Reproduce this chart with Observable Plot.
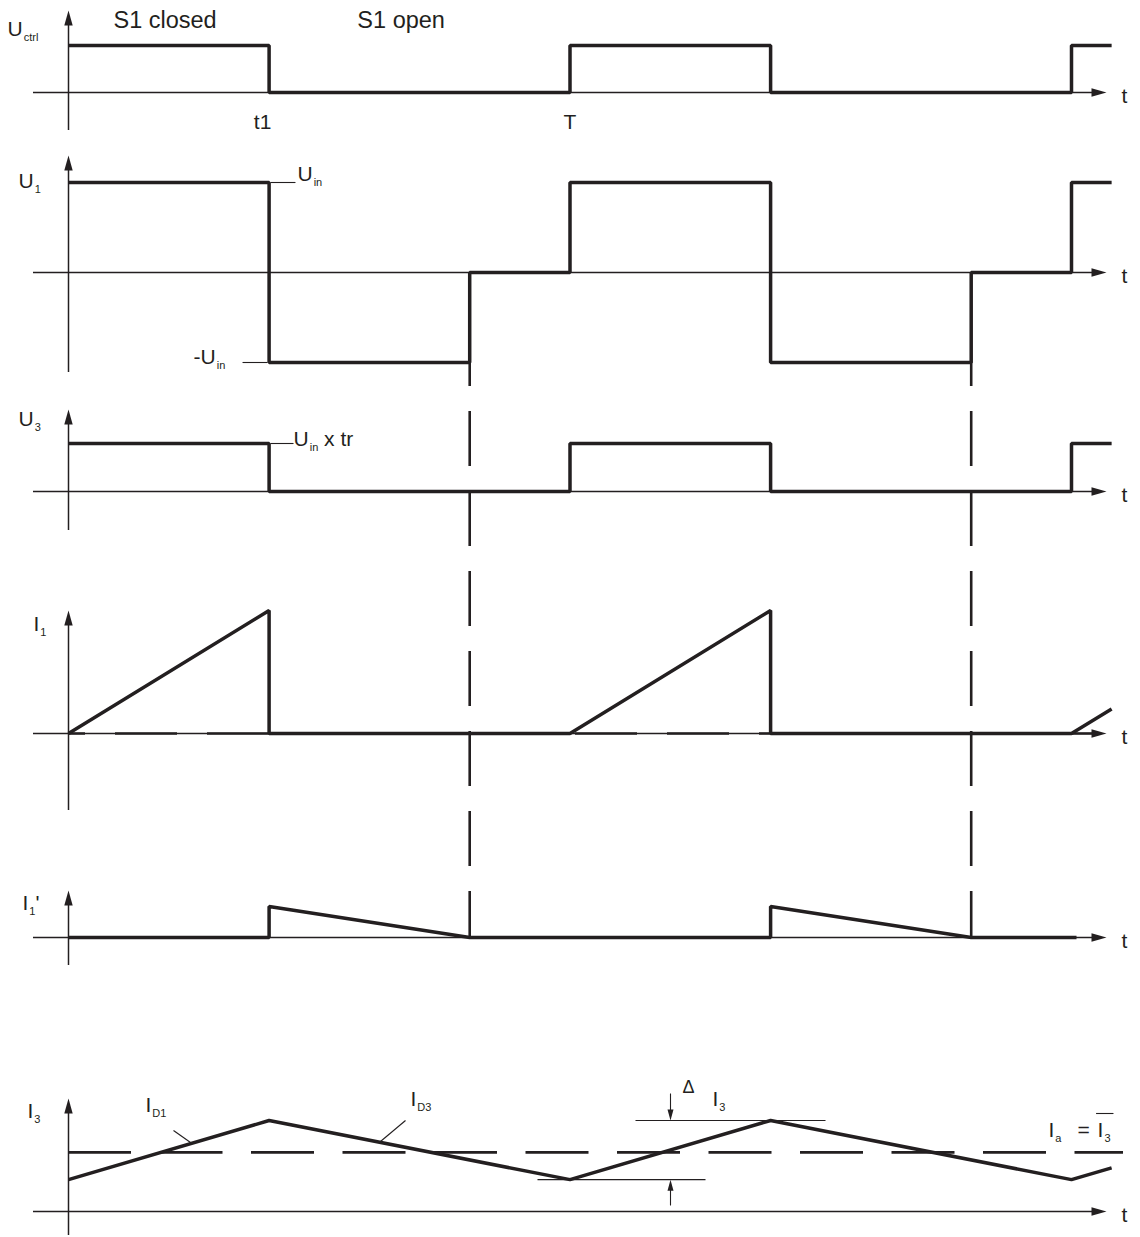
<!DOCTYPE html>
<html>
<head>
<meta charset="utf-8">
<script src="https://cdn.jsdelivr.net/npm/d3@7"></script>
<script src="https://cdn.jsdelivr.net/npm/@observablehq/plot@0.6"></script>
<style>
  body { margin: 0; background: #fff; }
  #chart svg { display: block; }
</style>
</head>
<body>
<div id="chart"></div>
<script>
// ---- DATA (time in units of the switching period T = 1; t1 = 0.4) ----
const tCtrl = [0, 0.4, 0.4, 1.0, 1.0, 1.4, 1.4, 2.0, 2.0, 2.08];
const uCtrl = [1, 1, 0, 0, 1, 1, 0, 0, 1, 1];
const tU1   = [0, 0.4, 0.4, 0.8, 0.8, 1.0, 1.0, 1.4, 1.4, 1.8, 1.8, 2.0, 2.0, 2.08];
const u1    = [1, 1, -1, -1, 0, 0, 1, 1, -1, -1, 0, 0, 1, 1];
const tU3   = [0, 0.4, 0.4, 1.0, 1.0, 1.4, 1.4, 2.0, 2.0, 2.08];
const u3    = [1, 1, 0, 0, 1, 1, 0, 0, 1, 1];
const tI1   = [0, 0.4, 0.4, 1.0, 1.4, 1.4, 2.0, 2.08];
const i1    = [0, 1, 0, 0, 1, 0, 0, 0.2];
const tI1p  = [0, 0.4, 0.4, 0.8, 1.4, 1.4, 1.8, 2.01];
const i1p   = [0, 0, 1, 0, 0, 1, 0, 0];
const tI3   = [0, 0.4, 1.0, 1.4, 2.0, 2.08];
const i3    = [0.35, 1, 0.35, 1, 0.35, 0.48];
const i3Avg = 0.65;
const demagEnd = [0.8, 1.8];          // end of transformer demagnetisation
const edgeLabels = ["t1", "T"];
const edgeTimes  = [0.387, 1.0];

// ---- LAYOUT ----
const color = "#231f20";
const panels = {
  uctrl: {base: 92,   amp: 47,  up: 82,  down: 38},
  u1:    {base: 272,  amp: 90,  up: 117, down: 100},
  u3:    {base: 491,  amp: 48,  up: 82,  down: 39},
  i1:    {base: 733,  amp: 123, up: 123, down: 77},
  i1p:   {base: 937,  amp: 31,  up: 47,  down: 28},
  i3:    {base: 1211, amp: 91,  up: 113, down: 24}
};
const panelList = Object.values(panels);
const Y = (p, v) => panels[p].base - panels[p].amp * v;
const series = (ts, vs) => ts.map((t, i) => ({t, v: vs[i]}));

const upHead    = {draw(c) { c.moveTo(0, 0); c.lineTo(-4.2, 15); c.lineTo(4.2, 15); c.closePath(); }};
const rightHead = {draw(c) { c.moveTo(0, 0); c.lineTo(-15, -4.2); c.lineTo(-15, 4.2); c.closePath(); }};
const smallDown = {draw(c) { c.moveTo(0, 0); c.lineTo(-3, -11); c.lineTo(3, -11); c.closePath(); }};
const smallUp   = {draw(c) { c.moveTo(0, 0); c.lineTo(-3, 11); c.lineTo(3, 11); c.closePath(); }};

const sig = {stroke: color, strokeWidth: 3.5, strokeLinejoin: "miter", strokeLinecap: "butt"};

// annotation texts ("_" starts a subscript, "|" returns to the baseline)
const labels = [
  {t: 0.0897, y: 27,   text: "S1 closed", size: 23.5},
  {t: 0.576,  y: 27,   text: "S1 open",   size: 23.5},
  {t: -0.1216, y: 35,  text: "U_ctrl", size: 21},
  {t: -0.0997, y: 187, text: "U_1", size: 21},
  {t: -0.0997, y: 425, text: "U_3", size: 21},
  {t: -0.0698, y: 630, text: "I_1", size: 21},
  {t: -0.0917, y: 909, text: "I_1|'", size: 21},
  {t: -0.0818, y: 1117, text: "I_3", size: 21},
  {t: 0.4566, y: 180,  text: "U_in", size: 21},
  {t: 0.2493, y: 363,  text: "-U_in", size: 21},
  {t: 0.4487, y: 445,  text: "U_in| x tr", size: 21},
  {t: 0.1535, y: 1111, text: "I_D1", size: 21},
  {t: 0.682,  y: 1105, text: "I_D3", size: 21},
  {t: 1.2243, y: 1092, text: "Δ", size: 18},
  {t: 1.2842, y: 1105, text: "I_3", size: 21},
  {t: 1.954,  y: 1136, text: "I_a", size: 21},
  {t: 2.012,  y: 1136, text: "=", size: 21},
  {t: 2.052,  y: 1136, text: "I_3", size: 21}
];
const thin = [
  {x1: 0.4028, y1: Y("u1", 1),  x2: 0.4526, y2: Y("u1", 1)},
  {x1: 0.347,  y1: Y("u1", -1), x2: 0.3968, y2: Y("u1", -1)},
  {x1: 0.4028, y1: Y("u3", 1),  x2: 0.4487, y2: Y("u3", 1)},
  {x1: 0.2094, y1: 1130, x2: 0.2433, y2: 1142},
  {x1: 0.672,  y1: 1120, x2: 0.6221, y2: 1141},
  {x1: 1.1306, y1: Y("i3", 1),    x2: 1.5095, y2: Y("i3", 1)},
  {x1: 0.9352, y1: Y("i3", 0.35), x2: 1.2702, y2: Y("i3", 0.35)},
  {x1: 1.2004, y1: 1093, x2: 1.2004, y2: Y("i3", 1) - 10},
  {x1: 1.2004, y1: Y("i3", 0.35) + 10, x2: 1.2004, y2: 1205},
  {x1: 2.049,  y1: 1113, x2: 2.0837, y2: 1113}
];

const textMarks = [23.5, 21, 18].map(size =>
  Plot.text(labels.filter(d => d.size === size), {x: "t", y: "y", text: "text", textAnchor: "start", lineAnchor: "bottom", fontSize: size, fill: color})
);

const plot = Plot.plot({
  width: 1140,
  height: 1237,
  marginLeft: 68, marginRight: 69, marginTop: 0, marginBottom: 0,
  x: {domain: [0, 2], axis: null},
  y: {domain: [0, 1237], range: [0, 1237], axis: null},
  style: {fontFamily: "'Liberation Sans', Arial, Helvetica, sans-serif", background: "#fff", color: color},
  marks: [
    // axes
    Plot.ruleX(panelList, {x: 0, y1: d => d.base - d.up + 10, y2: d => d.base + d.down, stroke: color, strokeWidth: 1.5}),
    Plot.dot(panelList, {x: 0, y: d => d.base - d.up, symbol: upHead, fill: color, stroke: null}),
    Plot.ruleY(panelList, {y: d => d.base, x1: -0.0698, x2: 2.055, stroke: color, strokeWidth: 1.5}),
    Plot.dot(panelList, {x: 2.0698, y: d => d.base, symbol: rightHead, fill: color, stroke: null}),
    Plot.text(panelList, {x: 2.0997, y: d => d.base + 10, text: () => "t", textAnchor: "start", lineAnchor: "bottom", fontSize: 21, fill: color}),
    // dashed guides
    Plot.ruleX(demagEnd, {x: d => d, y1: Y("u1", -1), y2: Y("i1p", 0), stroke: color, strokeWidth: 2.6, strokeDasharray: "55,25", strokeDashoffset: 31}),
    Plot.ruleY([0], {y: d => Y("i1", d), x1: 0, x2: 2.058, stroke: color, strokeWidth: 2.5, strokeDasharray: "62,30", strokeDashoffset: 45}),
    Plot.ruleY([i3Avg], {y: d => Y("i3", d), x1: 0, x2: 2.1037, stroke: color, strokeWidth: 2.8, strokeDasharray: "63,28.5"}),
    // signals
    Plot.line(series(tCtrl, uCtrl), {x: "t", y: d => Y("uctrl", d.v), ...sig}),
    Plot.line(series(tU1, u1), {x: "t", y: d => Y("u1", d.v), ...sig}),
    Plot.line(series(tU3, u3), {x: "t", y: d => Y("u3", d.v), ...sig}),
    Plot.line(series(tI1, i1), {x: "t", y: d => Y("i1", d.v), ...sig}),
    Plot.line(series(tI1p, i1p), {x: "t", y: d => Y("i1p", d.v), ...sig}),
    Plot.line(series(tI3, i3), {x: "t", y: d => Y("i3", d.v), ...sig}),
    // annotations
    Plot.link(thin, {x1: "x1", y1: "y1", x2: "x2", y2: "y2", stroke: color, strokeWidth: 1.1}),
    Plot.dot([1], {x: 1.2004, y: d => Y("i3", d), symbol: smallDown, fill: color, stroke: null}),
    Plot.dot([0.35], {x: 1.2004, y: d => Y("i3", d), symbol: smallUp, fill: color, stroke: null}),
    Plot.text(edgeLabels, {x: (d, i) => edgeTimes[i], y: () => 128, text: d => d, textAnchor: "middle", lineAnchor: "bottom", fontSize: 21, fill: color}),
    ...textMarks
  ]
});

// turn "_" / "|" markup into subscripts
d3.select(plot).selectAll("text").each(function () {
  const s = this.textContent;
  if (!s.includes("_")) return;
  const m = s.match(/^([^_]*)_([^|]*)(?:\|(.*))?$/);
  if (!m) return;
  const el = d3.select(this);
  this.textContent = "";
  el.append("tspan").text(m[1]);
  el.append("tspan").attr("dy", 5).attr("dx", 1).attr("font-size", 11).text(m[2]);
  if (m[3]) el.append("tspan").attr("dy", -5).text(m[3]);
});

document.getElementById("chart").appendChild(plot);
</script>
</body>
</html>
